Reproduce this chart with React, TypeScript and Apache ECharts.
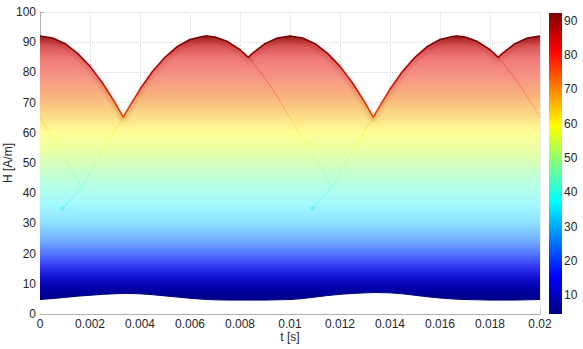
import React, { useEffect, useRef } from 'react';
import * as echarts from 'echarts';

// time samples [s]
const tValues = [
  0, 0.0005, 0.001, 0.0015, 0.002, 0.0025, 0.003, 0.00333, 0.0035, 0.004, 0.0045, 0.005,
  0.0055, 0.006, 0.0065, 0.00667, 0.007, 0.0075, 0.008, 0.00833, 0.0085, 0.009, 0.0095,
  0.01, 0.0105, 0.011, 0.0115, 0.012, 0.0125, 0.013, 0.01333, 0.0135, 0.014, 0.0145, 0.015,
  0.0155, 0.016, 0.0165, 0.01667, 0.017, 0.0175, 0.018, 0.01833, 0.0185, 0.019, 0.0195, 0.02,
];
// upper envelope H [A/m]
const hTop = [
  92, 91.4, 89.5, 86.3, 82.0, 76.5, 70.0, 65.1, 67.6, 74.4, 80.3, 85.0,
  88.6, 90.9, 91.9, 92, 91.7, 90.2, 87.5, 85.0, 86.3, 89.5, 91.4,
  92, 91.4, 89.5, 86.3, 82.0, 76.5, 70.0, 65.1, 67.6, 74.4, 80.3, 85.0,
  88.6, 90.9, 91.9, 92, 91.7, 90.2, 87.5, 85.0, 86.3, 89.5, 91.4, 92,
];
// lower envelope H [A/m]
const hBottom = [
  4.8, 5.1, 5.5, 5.9, 6.2, 6.5, 6.7, 6.8, 6.8, 6.7, 6.4, 6.0,
  5.6, 5.2, 4.9, 4.8, 4.7, 4.6, 4.6, 4.6, 4.6, 4.6, 4.7,
  4.8, 5.1, 5.6, 6.1, 6.5, 6.8, 7.0, 7.1, 7.1, 7.0, 6.7, 6.2,
  5.7, 5.3, 5.0, 4.9, 4.8, 4.7, 4.6, 4.6, 4.6, 4.6, 4.7, 4.8,
];

// visible inner curves
const innerT1 = [0, 0.00083, 0.00167];
const innerH1 = [65, 54, 42];
const innerT2 = [0.0009, 0.00125, 0.00167, 0.0025, 0.00333];
const innerH2 = [35, 38, 42, 54, 65];
const innerT3 = [0.00833, 0.00917, 0.01, 0.01083, 0.01167];
const innerH3 = [85, 76, 65, 54, 42];
const innerT4 = [0.0109, 0.01125, 0.01167, 0.0125, 0.01333];
const innerH4 = [35, 38, 42, 54, 65];
const innerT5 = [0.01833, 0.01917, 0.02];
const innerH5 = [85, 76, 65];
const blobT = [0.0009, 0.0109];
const blobH = [35, 35];

// colour scale range and ticks
const cMin = 4.5;
const cMax = 92.3;
const cTicks = [10, 20, 30, 40, 50, 60, 70, 80, 90];

const jet = ['#000080', '#0000ff', '#00ffff', '#ffff00', '#ff0000', '#800000'];

const pairs = (t: number[], h: number[]) => t.map((v, i) => [v, h[i]]);

const FONT = 'Liberation Sans, Arial, Helvetica, sans-serif';

export default function App() {
  const ref = useRef<HTMLDivElement>(null);
  useEffect(() => {
    document.body.style.margin = '0';
    const chart = echarts.init(ref.current!, null, { renderer: 'svg' });

    // area bbox spans H = 92 (offset 0) .. 0 (offset 1)
    const fill = new echarts.graphic.LinearGradient(0, 0, 0, 1, [
      { offset: 0, color: '#a02424' },
      { offset: 0.035, color: '#d85454' },
      { offset: 0.08, color: '#f07878' },
      { offset: 0.152, color: '#f69686' },
      { offset: 0.217, color: '#f9b47e' },
      { offset: 0.283, color: '#fcda86' },
      { offset: 0.348, color: '#ffff96' },
      { offset: 0.413, color: '#eaffa6' },
      { offset: 0.478, color: '#ccffc6' },
      { offset: 0.543, color: '#b4ffea' },
      { offset: 0.609, color: '#a2f8ff' },
      { offset: 0.674, color: '#8ce0ff' },
      { offset: 0.728, color: '#74b4ff' },
      { offset: 0.783, color: '#5676ff' },
      { offset: 0.837, color: '#2e2ef2' },
      { offset: 0.88, color: '#0a0ac4' },
      { offset: 0.913, color: '#0000a4' },
      { offset: 0.95, color: '#00008c' },
      { offset: 1, color: '#00008c' },
    ]);
    const edge = new echarts.graphic.LinearGradient(0, 0, 0, 1, [
      { offset: 0, color: '#780000' },
      { offset: 0.35, color: '#b00000' },
      { offset: 0.75, color: '#d82000' },
      { offset: 1, color: '#e85000' },
    ]);
    const cbar = new echarts.graphic.LinearGradient(0, 0, 0, 1, [
      { offset: 0, color: '#800000' },
      { offset: 0.125, color: '#ff0000' },
      { offset: 0.375, color: '#ffff00' },
      { offset: 0.625, color: '#00ffff' },
      { offset: 0.875, color: '#0000ff' },
      { offset: 1, color: '#000080' },
    ]);

    const axisText = { color: '#262626', fontFamily: FONT, fontSize: 12 };
    const innerLine = (t: number[], h: number[]) => ({
      type: 'line',
      data: pairs(t, h),
      showSymbol: false,
      smooth: true,
      lineStyle: { width: 1, opacity: 0.35 },
      z: 3,
    });

    const option: any = {
      animation: false,
      grid: [
        { left: 40, right: 43, top: 12, bottom: 35, outerBoundsMode: 'none', containLabel: false },
        { left: 549, width: 13, top: 13, height: 301, outerBoundsMode: 'none', containLabel: false },
      ],
      xAxis: [
        {
          type: 'value',
          min: 0,
          max: 0.02,
          interval: 0.002,
          name: 't [s]',
          nameLocation: 'middle',
          nameGap: 17,
          nameMoveOverlap: false,
          nameTextStyle: axisText,
          axisLine: { show: true, onZero: false, lineStyle: { color: '#b0b0b0' } },
          axisTick: { show: true, inside: true, length: 4, lineStyle: { color: '#b0b0b0' } },
          axisLabel: {
            ...axisText,
            margin: 4,
            formatter: (v: number) => String(+v.toFixed(4)),
          },
          splitLine: { show: true, lineStyle: { color: '#d8d8d8', type: 'dotted' } },
        },
        { gridIndex: 1, type: 'category', data: ['cb'], show: false },
      ],
      yAxis: [
        {
          type: 'value',
          min: 0,
          max: 100,
          interval: 10,
          name: 'H [A/m]',
          nameLocation: 'middle',
          nameGap: 26,
          nameMoveOverlap: false,
          nameTextStyle: axisText,
          axisLine: { show: true, onZero: false, lineStyle: { color: '#b0b0b0' } },
          axisTick: { show: true, inside: true, length: 4, lineStyle: { color: '#b0b0b0' } },
          axisLabel: { ...axisText, margin: 4 },
          splitLine: { show: true, lineStyle: { color: '#d8d8d8', type: 'dotted' } },
        },
        {
          gridIndex: 1,
          type: 'value',
          min: cMin,
          max: cMax,
          position: 'right',
          axisLine: { show: false },
          axisTick: {
            show: true,
            inside: true,
            length: 2,
            customValues: cTicks,
            lineStyle: { color: '#404040' },
          },
          axisLabel: { ...axisText, margin: 2, customValues: cTicks },
          splitLine: { show: false },
        },
      ],
      visualMap: {
        type: 'continuous',
        show: false,
        dimension: 1,
        seriesIndex: [2, 3, 4, 5, 6],
        min: cMin,
        max: cMax,
        inRange: { color: jet },
      },
      series: [
        {
          type: 'line',
          data: pairs(tValues, hTop),
          showSymbol: false,
          lineStyle: {
            width: 1.6,
            color: edge,
            shadowColor: 'rgba(150,0,0,0.45)',
            shadowBlur: 4,
            shadowOffsetY: 3,
          },
          areaStyle: { color: fill, opacity: 1, origin: 'start' },
          z: 2,
        },
        {
          type: 'line',
          data: pairs(tValues, hBottom),
          showSymbol: false,
          lineStyle: { width: 1, color: '#00007a' },
          areaStyle: { color: '#ffffff', opacity: 1, origin: 'start' },
          z: 2,
        },
        innerLine(innerT1, innerH1),
        innerLine(innerT2, innerH2),
        innerLine(innerT3, innerH3),
        innerLine(innerT4, innerH4),
        innerLine(innerT5, innerH5),
        {
          type: 'scatter',
          data: pairs(blobT, blobH),
          symbolSize: 5,
          itemStyle: { color: 'rgba(0,225,235,0.3)' },
          z: 3,
        },
        {
          type: 'bar',
          xAxisIndex: 1,
          yAxisIndex: 1,
          stack: 'cb',
          barWidth: '100%',
          data: [cMin],
          itemStyle: { color: 'rgba(0,0,0,0)' },
        },
        {
          type: 'bar',
          xAxisIndex: 1,
          yAxisIndex: 1,
          stack: 'cb',
          barWidth: '100%',
          data: [+(cMax - cMin).toFixed(2)],
          itemStyle: { color: cbar },
        },
      ],
    };
    chart.setOption(option);
    return () => chart.dispose();
  }, []);
  return <div ref={ref} style={{ width: 583, height: 349 }} />;
}
